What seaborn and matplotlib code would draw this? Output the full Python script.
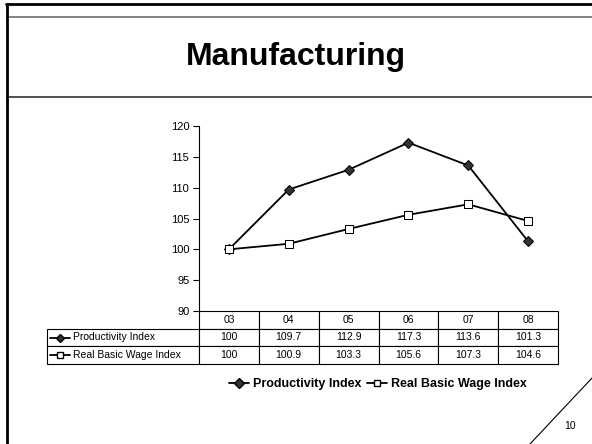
import pandas as pd
import matplotlib.pyplot as plt
import seaborn as sns
from matplotlib.lines import Line2D
from matplotlib.table import Table

# dados do gráfico
anos = ['03', '04', '05', '06', '07', '08']
produtividade = [100, 109.7, 112.9, 117.3, 113.6, 101.3]
salario_real = [100, 100.9, 103.3, 105.6, 107.3, 104.6]
series = ['Productivity Index', 'Real Basic Wage Index']
yticks = [90, 95, 100, 105, 110, 115, 120]

W, H = 592, 444


def fx(x):
    return x / W


def fy(y):
    return 1 - y / H


def plot_data():
    sns.set_style('ticks')
    plt.rcParams['font.family'] = ['Liberation Sans', 'DejaVu Sans']
    plt.rcParams['text.color'] = 'black'
    plt.rcParams['ytick.color'] = 'black'
    plt.rcParams['xtick.color'] = 'black'
    plt.rcParams['axes.edgecolor'] = 'black'

    fig = plt.figure(figsize=(5.92, 4.44), dpi=100)
    x0, x1, ytop, ybot = 199, 558, 126, 311
    ax = fig.add_axes([fx(x0), fy(ybot), fx(x1) - fx(x0), fy(ytop) - fy(ybot)])

    dados = pd.DataFrame({'ano': anos, 'prod': produtividade, 'sal': salario_real})

    sns.lineplot(data=dados, x='ano', y='prod', ax=ax, color='black', lw=1.3,
                 marker='D', markersize=5.5, markerfacecolor='#333333',
                 markeredgecolor='black', sort=False)
    sns.lineplot(data=dados, x='ano', y='sal', ax=ax, color='black', lw=1.3,
                 marker='s', markersize=5.5, markerfacecolor='white',
                 markeredgecolor='black', sort=False)

    ax.set_xlim(-0.5, len(anos) - 0.5)
    ax.set_ylim(90, 120)
    ax.set_yticks(yticks)
    ax.tick_params(axis='y', labelsize=8, length=4, width=0.8, pad=3, colors='black')
    ax.set_xticks([])
    ax.set_xlabel('')
    ax.set_ylabel('')
    for s in ['top', 'right', 'bottom']:
        ax.spines[s].set_visible(False)
    ax.spines['left'].set_linewidth(0.8)
    ax.spines['left'].set_color('black')
    ax.patch.set_alpha(0)

    # tabela de dados sob o eixo
    ah = ybot - ytop
    aw = x1 - x0
    tab_left, tab_bot = 47, 364
    tbl = Table(ax, bbox=[(tab_left - x0) / aw, (ybot - tab_bot) / ah,
                          (x1 - tab_left) / aw, (tab_bot - ybot) / ah])
    lab_w = x0 - tab_left
    col_w = aw / len(anos)
    rh = (tab_bot - ybot) / 3
    for c, a in enumerate(anos):
        tbl.add_cell(0, c + 1, col_w, rh, text=a, loc='center')
    cel = tbl.add_cell(0, 0, lab_w, rh, text='')
    cel.set_visible(False)
    for r, vals in enumerate([produtividade, salario_real]):
        tbl.add_cell(r + 1, 0, lab_w, rh, text='')
        for c, v in enumerate(vals):
            tbl.add_cell(r + 1, c + 1, col_w, rh, text=f'{v:g}', loc='center')
    tbl.auto_set_font_size(False)
    tbl.set_fontsize(7.5)
    for cell in tbl.get_celld().values():
        cell.set_linewidth(0.8)
        cell.set_edgecolor('black')
        cell.get_text().set_color('black')
    ax.add_table(tbl)

    estilos = [dict(marker='D', markerfacecolor='#333333'),
               dict(marker='s', markerfacecolor='white')]
    for r, (nome, est) in enumerate(zip(series, estilos)):
        yc = -rh * (r + 1.5) / ah
        ax.plot([(50 - x0) / aw, (70 - x0) / aw], [yc, yc], transform=ax.transAxes,
                color='black', lw=1.3, clip_on=False)
        ax.plot([(60 - x0) / aw], [yc], transform=ax.transAxes, clip_on=False,
                marker=est['marker'], markersize=4.5,
                markerfacecolor=est['markerfacecolor'], markeredgecolor='black',
                linestyle='none')
        ax.text((73 - x0) / aw, yc, nome, transform=ax.transAxes,
                fontsize=7.5, va='center', ha='left', color='black')

    # legenda
    handles = [Line2D([], [], color='black', lw=1.3, marker='D', markersize=5,
                      markerfacecolor='#333333', markeredgecolor='black'),
               Line2D([], [], color='black', lw=1.3, marker='s', markersize=5,
                      markerfacecolor='white', markeredgecolor='black')]
    leg = fig.legend(handles, series, loc='center', bbox_to_anchor=(fx(378), fy(384)),
                     ncol=2, frameon=False, handlelength=1.6, handletextpad=0.3,
                     columnspacing=0.5, prop={'weight': 'bold', 'size': 9})
    for t in leg.get_texts():
        t.set_color('black')

    # moldura do slide
    fig.add_artist(Line2D([fx(6), fx(W)], [fy(4.5), fy(4.5)], color='black', lw=2))
    fig.add_artist(Line2D([fx(7), fx(W)], [fy(17.5), fy(17.5)], color='#777777', lw=1.3))
    fig.add_artist(Line2D([fx(7), fx(W)], [fy(97), fy(97)], color='#333333', lw=1.2))
    fig.add_artist(Line2D([fx(7), fx(7)], [fy(4), fy(H)], color='black', lw=2))
    fig.add_artist(Line2D([fx(530), fx(W)], [fy(H), fy(378)], color='black', lw=0.8))

    fig.text(0.5, fy(57), 'Manufacturing', ha='center', va='center',
             fontsize=23, fontweight='bold', color='black')
    fig.text(fx(570), fy(426), '10', ha='center', va='center', fontsize=7.5,
             color='black')

    fig.savefig('out.png', dpi=100)


def main():
    plot_data()


if __name__ == "__main__":
    main()
